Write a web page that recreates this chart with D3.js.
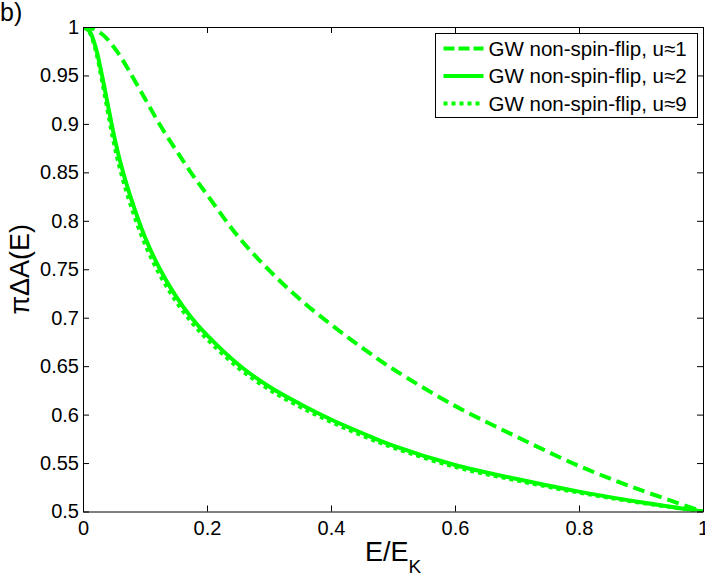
<!DOCTYPE html>
<html>
<head>
<meta charset="utf-8">
<script src="https://cdn.jsdelivr.net/npm/d3@7"></script>
<style>
  body { margin: 0; background: #fff; }
  text { font-family: "Liberation Sans", Arial, sans-serif; fill: #000; }
  .axis path, .axis line { stroke: #000; }
</style>
</head>
<body>
<div id="chart"></div>
<script>

// DATA
const energy = [0, 0.01, 0.02, 0.03, 0.04, 0.05, 0.06, 0.075, 0.1, 0.125, 0.15, 0.175,
                0.2, 0.25, 0.3, 0.35, 0.4, 0.45, 0.5, 0.6, 0.7, 0.8, 0.9, 1];
const nsfU1 = [1, 0.9995, 0.997, 0.993, 0.987, 0.979, 0.970, 0.954, 0.926, 0.898, 0.873, 0.849,
               0.827, 0.784, 0.749, 0.719, 0.693, 0.669, 0.647, 0.609, 0.577, 0.547, 0.522, 0.5];
const nsfU2 = [1, 0.996, 0.980, 0.952, 0.920, 0.888, 0.861, 0.828, 0.783, 0.749, 0.722, 0.700,
               0.682, 0.652, 0.629, 0.611, 0.595, 0.581, 0.568, 0.548, 0.5335, 0.5205, 0.5095, 0.5];
const nsfU9 = [1, 0.995, 0.977, 0.947, 0.913, 0.880, 0.853, 0.820, 0.776, 0.743, 0.717, 0.6955,
               0.678, 0.6485, 0.626, 0.608, 0.5925, 0.5785, 0.566, 0.546, 0.532, 0.5195, 0.509, 0.5];
const seriesLabels = ['GW non-spin-flip, u\u22481', 'GW non-spin-flip, u\u22482', 'GW non-spin-flip, u\u22489'];
const xTicks = [0, 0.2, 0.4, 0.6, 0.8, 1];
const yTicks = [0.5, 0.55, 0.6, 0.65, 0.7, 0.75, 0.8, 0.85, 0.9, 0.95, 1];

const width = 705;
const height = 576;
const margin = { top: 27, left: 83, right: 2, bottom: 64.5 };

const svg = d3.select('#chart').append('svg')
  .attr('width', width)
  .attr('height', height);

const x = d3.scaleLinear().domain([0, 1]).range([margin.left, width - margin.right]);
const y = d3.scaleLinear().domain([0.5, 1]).range([height - margin.bottom, margin.top]);

const green = '#00ff00';
const styles = [
  { dash: '12,6' },
  { dash: null },
  { dash: '4,4' }
];
const series = [nsfU1, nsfU2, nsfU9];

// clip to axes box
svg.append('clipPath').attr('id', 'clip')
  .append('rect')
  .attr('x', x(0)).attr('y', y(1))
  .attr('width', x(1) - x(0)).attr('height', y(0.5) - y(1));

const line = d3.line()
  .x(d => x(d[0]))
  .y(d => y(d[1]))
  .curve(d3.curveCatmullRom.alpha(0.5));

const plot = svg.append('g').attr('clip-path', 'url(#clip)');
series.forEach((vals, i) => {
  plot.append('path')
    .datum(energy.map((e, j) => [e, vals[j]]))
    .attr('d', line)
    .attr('fill', 'none')
    .attr('stroke', green)
    .attr('stroke-width', 4)
    .attr('stroke-dasharray', styles[i].dash);
});

// AXES
const fmt = d => d3.format('')(+d.toFixed(2));

svg.append('g').attr('class', 'axis')
  .attr('transform', 'translate(0,' + y(0.5) + ')')
  .call(d3.axisBottom(x).tickValues(xTicks).tickFormat(fmt).tickSizeInner(-6).tickSizeOuter(0).tickPadding(9))
  .call(g => g.selectAll('text').style('font-size', '20px'));

svg.append('g').attr('class', 'axis')
  .attr('transform', 'translate(0,' + y(1) + ')')
  .call(d3.axisTop(x).tickValues(xTicks).tickFormat('').tickSizeInner(-6).tickSizeOuter(0));

svg.append('g').attr('class', 'axis')
  .attr('transform', 'translate(' + x(0) + ',0)')
  .call(d3.axisLeft(y).tickValues(yTicks).tickFormat(fmt).tickSizeInner(-6).tickSizeOuter(0).tickPadding(4))
  .call(g => g.selectAll('text').style('font-size', '20px'));

svg.append('g').attr('class', 'axis')
  .attr('transform', 'translate(' + x(1) + ',0)')
  .call(d3.axisRight(y).tickValues(yTicks).tickFormat('').tickSizeInner(-6).tickSizeOuter(0));

svg.selectAll('.axis text').attr('font-family', null);

// LABELS
const xl = svg.append('text')
  .attr('x', (x(0) + x(1)) / 2)
  .attr('y', 561)
  .attr('text-anchor', 'middle')
  .style('font-size', '27px');
xl.append('tspan').text('E/E');
xl.append('tspan').attr('dy', 12).style('font-size', '19px').text('K');

svg.append('text')
  .attr('transform', 'translate(29,' + ((y(0.5) + y(1)) / 2) + ') rotate(-90)')
  .attr('text-anchor', 'middle')
  .style('font-size', '27px')
  .text('\u03c0\u0394A(E)');

svg.append('text')
  .attr('x', 0).attr('y', 21)
  .style('font-size', '25px')
  .text('b)');

// LEGEND
const legend = svg.append('g').attr('transform', 'translate(435.5,33.5)');
legend.append('rect')
  .attr('width', 262).attr('height', 84)
  .attr('fill', '#fff').attr('stroke', '#000');

seriesLabels.forEach((lab, i) => {
  const cy = 15 + i * 27.5;
  legend.append('line')
    .attr('x1', 8).attr('x2', 48)
    .attr('y1', cy).attr('y2', cy)
    .attr('stroke', green)
    .attr('stroke-width', 4)
    .attr('stroke-dasharray', i === 0 ? '11,4' : styles[i].dash);
  legend.append('text')
    .attr('x', 53).attr('y', cy + 7)
    .style('font-size', '20.5px')
    .text(lab);
});

</script>
</body>
</html>
